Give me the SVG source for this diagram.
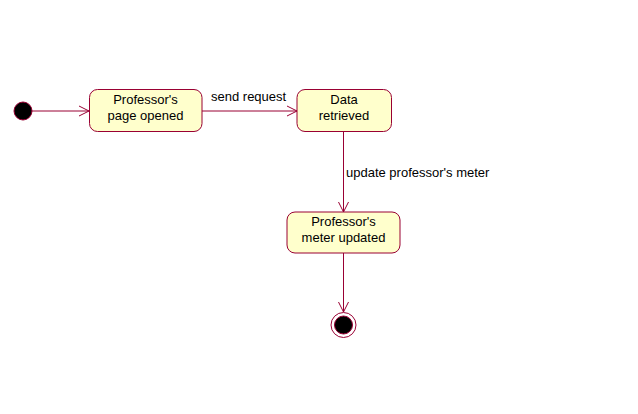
<svg xmlns="http://www.w3.org/2000/svg" width="638" height="414" viewBox="0 0 638 414">
<defs>
<style>
.st{fill:#ffffcc;stroke:#990033;stroke-width:1}
.t{font-family:"Liberation Sans",Arial,sans-serif;font-size:13px;fill:#000}
.c{stroke:#990033;stroke-width:1;fill:none}
</style>
<marker id="ah" markerWidth="12" markerHeight="12" refX="10" refY="5" orient="auto" markerUnits="userSpaceOnUse" viewBox="0 0 12 10">
<path d="M0,0 L10,5 L0,10" fill="none" stroke="#990033" stroke-width="1"/>
</marker>
</defs>
<rect width="638" height="414" fill="#fff"/>
<g id="connectors">
<line class="c" x1="32" y1="111" x2="89" y2="111" marker-end="url(#ah)"/>
<line class="c" x1="202" y1="111" x2="297" y2="111" marker-end="url(#ah)"/>
<line class="c" x1="343.5" y1="132" x2="343.5" y2="212" marker-end="url(#ah)"/>
<line class="c" x1="343.5" y1="253" x2="343.5" y2="312" marker-end="url(#ah)"/>
<text class="t" x="211" y="101">send request</text>
<text class="t" x="346" y="177">update professor's meter</text>
</g>
<g id="initial">
<circle cx="23" cy="111" r="9" fill="#000" stroke="#990033"/>
</g>
<g id="n1">
<rect class="st" x="89.5" y="89.5" width="112.5" height="42" rx="8"/>
<text class="t" x="145.5" y="104" text-anchor="middle">Professor's</text>
<text class="t" x="145.5" y="120" text-anchor="middle">page opened</text>
</g>
<g id="n2">
<rect class="st" x="297" y="89.5" width="94.5" height="42" rx="8"/>
<text class="t" x="344" y="104" text-anchor="middle">Data</text>
<text class="t" x="344" y="120" text-anchor="middle">retrieved</text>
</g>
<g id="n3">
<rect class="st" x="287" y="212" width="113" height="41" rx="8"/>
<text class="t" x="343.5" y="226" text-anchor="middle">Professor's</text>
<text class="t" x="343.5" y="242" text-anchor="middle">meter updated</text>
</g>
<g id="final">
<circle cx="343.5" cy="325" r="12.5" fill="#fff" stroke="#990033"/>
<circle cx="343.5" cy="325" r="9" fill="#000" stroke="#990033"/>
</g>
</svg>
